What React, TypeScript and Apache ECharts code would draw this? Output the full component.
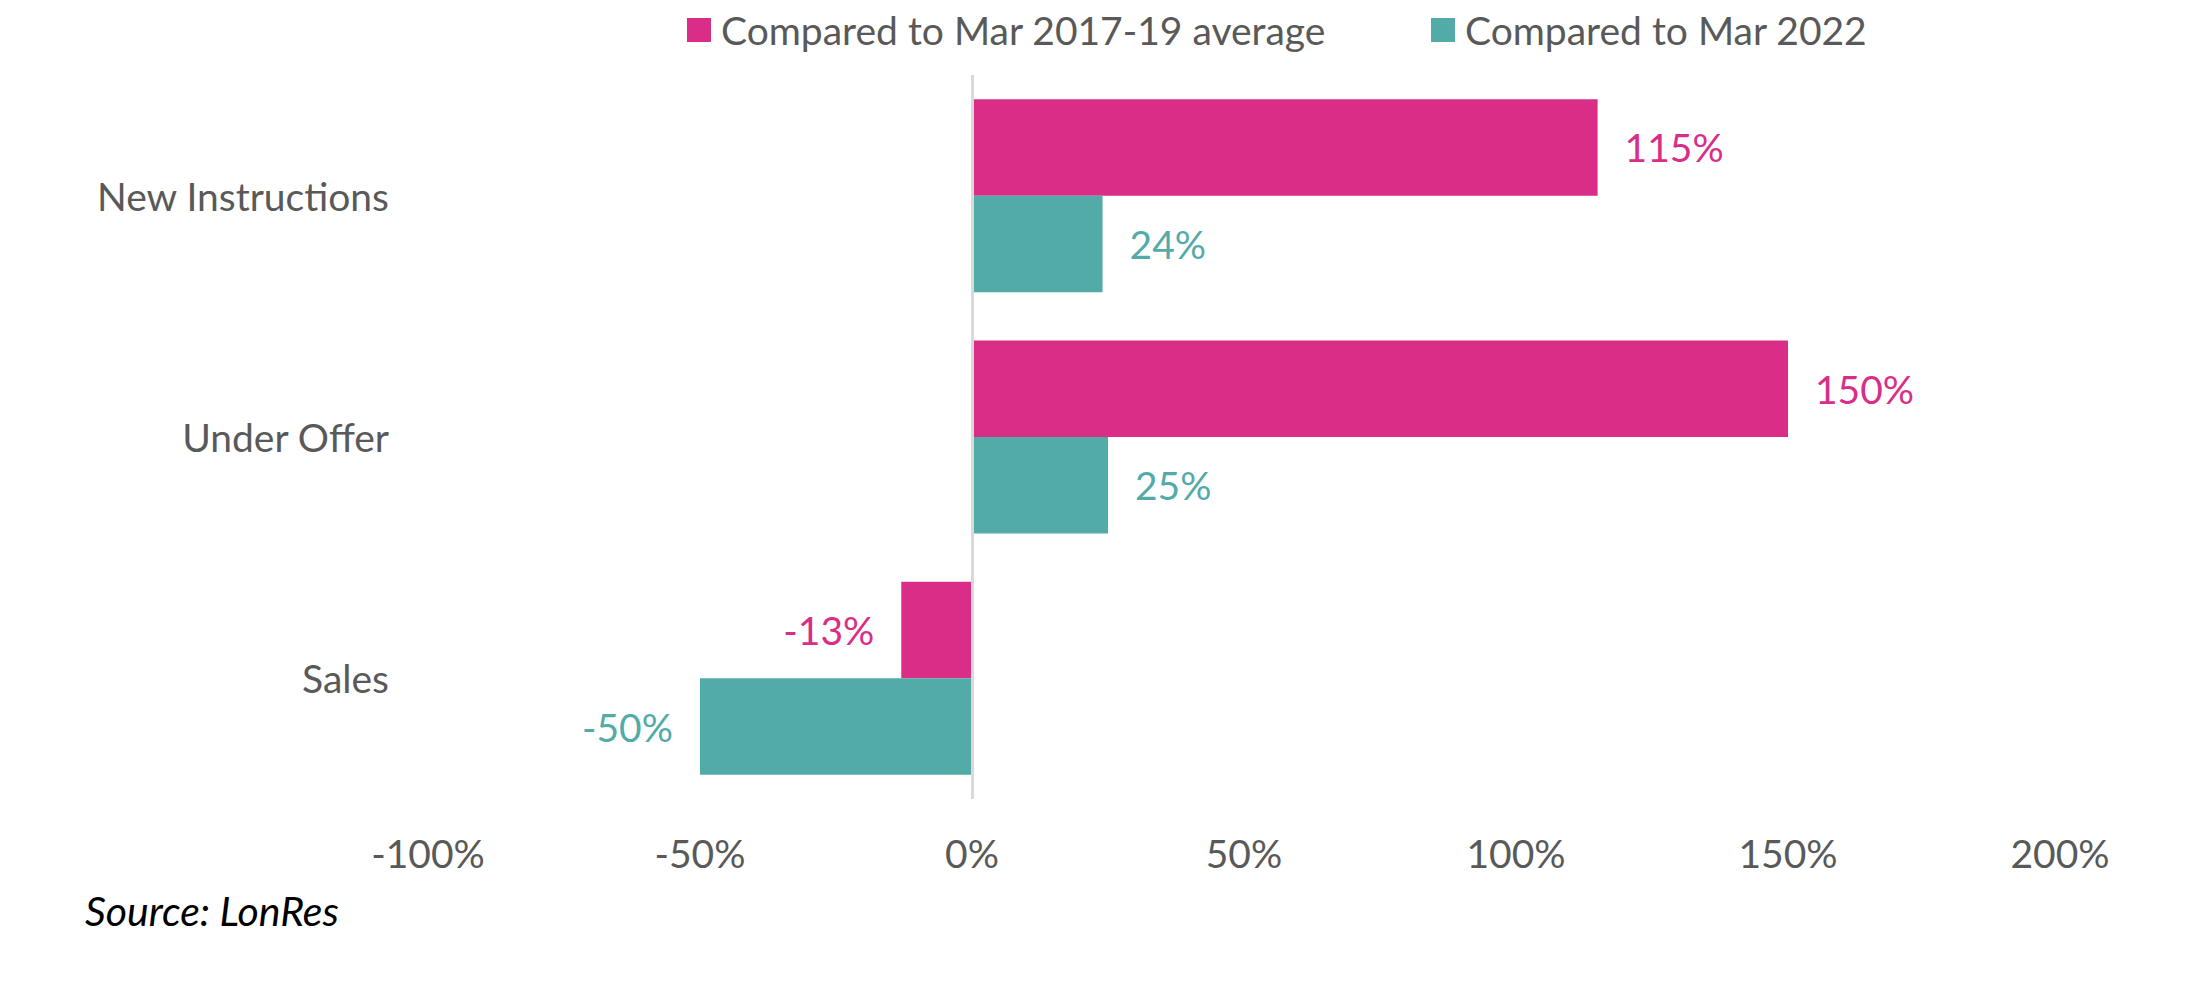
import React, { useEffect, useRef } from "react";
import * as echarts from "echarts";

const categories = ["New Instructions", "Under Offer", "Sales"];
const seriesNames = ["Compared to Mar 2017-19 average", "Compared to Mar 2022"];
const avgValues = [115, 150, -13];
const yoyValues = [24, 25, -50];
const tickMin = -100;
const tickMax = 200;
const tickStep = 50;
const sourceText = "Source: LonRes";

const PINK = "#D92D87";
const TEAL = "#53ABA8";
const GREY = "#595959";
const FONT = "Lato";

function buildData(values: number[]) {
  return values.map((v) => ({
    value: v,
    label: { position: v < 0 ? "left" : "right" },
  }));
}

export default function App() {
  const ref = useRef<HTMLDivElement>(null);
  useEffect(() => {
    document.body.style.margin = "0";
    if (!ref.current) return;
    const chart = echarts.init(ref.current, null, { renderer: "svg" });
    const labelBase = {
      show: true,
      fontFamily: FONT,
      fontSize: 39,
      distance: 27,
      formatter: (p: any) => `${p.value}%`,
    };
    const legendText = { fontFamily: FONT, fontSize: 39, color: GREY, lineHeight: 40, padding: [0, 0, 0, 5] };
    chart.setOption({
      animation: false,
      backgroundColor: "#ffffff",
      textStyle: { fontFamily: FONT },
      legend: [
        {
          data: [seriesNames[0]],
          left: 682,
          top: 5,
          itemWidth: 24,
          itemHeight: 24,
          icon: "rect",
          textStyle: legendText,
        },
        {
          data: [seriesNames[1]],
          left: 1426,
          top: 5,
          itemWidth: 24,
          itemHeight: 24,
          icon: "rect",
          textStyle: legendText,
        },
      ],
      grid: { left: 428, right: 132, top: 75, bottom: 189, containLabel: false },
      xAxis: {
        type: "value",
        min: tickMin,
        max: tickMax,
        interval: tickStep,
        axisLine: { show: false },
        axisTick: { show: false },
        splitLine: { show: false },
        axisLabel: {
          formatter: (v: number) => `${v}%`,
          fontFamily: FONT,
          fontSize: 39,
          color: GREY,
          margin: 34,
        },
      },
      yAxis: {
        type: "category",
        data: categories,
        inverse: true,
        axisLine: { show: false, onZero: false },
        axisTick: { show: false },
        splitLine: { show: false },
        axisLabel: {
          fontFamily: FONT,
          fontSize: 39,
          color: GREY,
          margin: 39,
        },
      },
      series: [
        {
          name: seriesNames[0],
          type: "bar",
          data: buildData(avgValues),
          barGap: "0%",
          barCategoryGap: "20%",
          itemStyle: { color: PINK },
          label: { ...labelBase, color: PINK },
          markLine: {
            silent: true,
            symbol: "none",
            label: { show: false },
            lineStyle: { color: "#D9D9D9", width: 3, type: "solid" },
            data: [{ xAxis: 0 }],
          },
        },
        {
          name: seriesNames[1],
          type: "bar",
          data: buildData(yoyValues),
          barGap: "0%",
          barCategoryGap: "20%",
          itemStyle: { color: TEAL },
          label: { ...labelBase, color: TEAL },
        },
      ],
      graphic: [
        {
          type: "text",
          left: 85,
          top: 890,
          style: {
            text: sourceText,
            fontFamily: FONT,
            fontStyle: "italic",
            fontSize: 41,
            fill: "#000000",
          },
        },
      ],
    });
    return () => chart.dispose();
  }, []);
  return <div ref={ref} style={{ width: 2192, height: 988 }} />;
}
